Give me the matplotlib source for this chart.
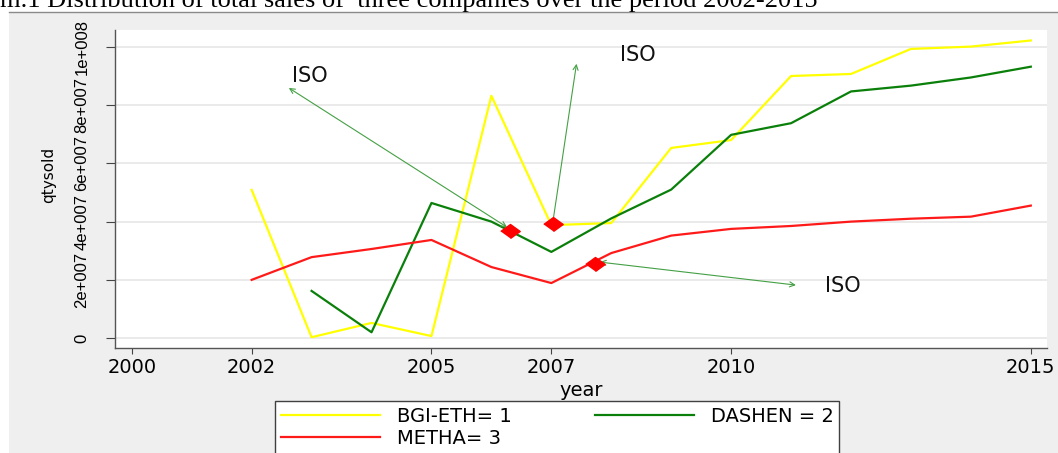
import numpy as np
import matplotlib
matplotlib.use("Agg")
import matplotlib.pyplot as plt
from matplotlib.patches import Rectangle
from matplotlib.lines import Line2D

plt.rcParams['font.family'] = ['DejaVu Sans']

# sales per company (qtysold)
years_bgi = [2002, 2003, 2004, 2005, 2006, 2007, 2008, 2009, 2010, 2011, 2012, 2013, 2014, 2015]
qty_bgi = [50.9e6, 0.3e6, 5.2e6, 0.7e6, 83.2e6, 38.8e6, 39.5e6, 65.3e6, 68.0e6,
           90.0e6, 90.7e6, 99.3e6, 100.1e6, 102.2e6]

years_dashen = [2003, 2004, 2005, 2006, 2007, 2008, 2009, 2010, 2011, 2012, 2013, 2014, 2015]
qty_dashen = [16.2e6, 2.0e6, 46.4e6, 40.0e6, 29.6e6, 41.1e6, 51.0e6, 69.8e6, 73.8e6,
              84.7e6, 86.7e6, 89.5e6, 93.2e6]

years_metha = [2002, 2003, 2004, 2005, 2006, 2007, 2008, 2009, 2010, 2011, 2012, 2013, 2014, 2015]
qty_metha = [20.0e6, 27.8e6, 30.6e6, 33.7e6, 24.4e6, 18.9e6, 29.2e6, 35.2e6, 37.5e6,
             38.5e6, 40.0e6, 41.0e6, 41.7e6, 45.5e6]

# ISO markers and annotation arrows
iso_x = [2006.31, 2007.02, 2007.73]
iso_y = [36.8e6, 39.1e6, 25.3e6]
arrow_start = [(2006.26, 38.1e6), (2007.03, 40.5e6), (2007.81, 26.1e6)]
arrow_end = [(2002.62, 85.9e6), (2007.42, 94.2e6), (2011.08, 18.2e6)]
arrow_style = ['<->', '->', '<->']
label_pos = [(2002.67, 90.0e6), (2008.14, 97.3e6), (2011.56, 17.9e6)]
label_text = "ISO"

xticks = [2000, 2002, 2005, 2007, 2010, 2015]
yticks = [0, 2e7, 4e7, 6e7, 8e7, 1e8]
ytick_labels = ["0", "2e+007", "4e+007", "6e+007", "8e+007", "1e+008"]

W, H = 1058, 453
fig = plt.figure(figsize=(W / 100, H / 100), dpi=100)
fig.patch.set_facecolor("white")

# grey stata-like background panel
bg = Rectangle((9 / W, 0), 1 - 9 / W, 1 - 12 / H, transform=fig.transFigure,
               facecolor="#efefef", edgecolor="none", zorder=-10)
fig.patches.append(bg)
fig.add_artist(Line2D([9 / W, 1], [1 - 12 / H, 1 - 12 / H], transform=fig.transFigure,
                      color="#8a8a8a", lw=1.0))

fig.text(0.0, 1 - 7 / H, "m.1 Distribution of total sales of  three companies over the period 2002-2015",
         family="Liberation Serif", fontsize=19, va="baseline", ha="left")

ax = fig.add_axes([115 / W, 1 - 348 / H, (1047 - 115) / W, (348 - 30) / H])
ax.set_facecolor("white")

for y in yticks:
    ax.axhline(y, color="#e6e6e6", lw=1.2, zorder=0)

l_bgi, = ax.plot(years_bgi, qty_bgi, color="#ffff00", lw=1.6, label="BGI-ETH= 1", zorder=2)
l_dash, = ax.plot(years_dashen, qty_dashen, color="#0a800a", lw=1.6, label="DASHEN = 2", zorder=2)
l_meth, = ax.plot(years_metha, qty_metha, color="#ff1a1a", lw=1.6, label="METHA= 3", zorder=2)

for (x0, y0), (x1, y1), st in zip(arrow_start, arrow_end, arrow_style):
    ax.annotate("", xy=(x1, y1), xytext=(x0, y0),
                arrowprops=dict(arrowstyle=st, color="#44a044", lw=0.8,
                                shrinkA=0, shrinkB=0, mutation_scale=9), zorder=3)

for lx, ly in label_pos:
    ax.text(lx, ly, label_text, fontsize=15, ha="left", va="center", color="#111111")

diamond = [(-1, 0), (0, 0.72), (1, 0), (0, -0.72)]
ax.plot(iso_x, iso_y, linestyle="none", marker=diamond, markersize=14,
        color="#ff0000", zorder=4)

ax.set_xlim(1999.72, 2015.27)
ax.set_ylim(-3.4e6, 105.8e6)
ax.set_xticks(xticks)
ax.set_yticks(yticks)
ax.set_yticklabels(ytick_labels, rotation=90, va="center", family="Liberation Sans", fontsize=12)
ax.tick_params(axis="y", length=6.5, pad=12, color="#444444")
ax.tick_params(axis="x", length=4.5, pad=3, labelsize=14, color="#444444")
for s in ["top", "right"]:
    ax.spines[s].set_visible(False)
for s in ["left", "bottom"]:
    ax.spines[s].set_color("#555555")
    ax.spines[s].set_linewidth(1.0)

ax.set_xlabel("year", fontsize=14)
ax.xaxis.set_label_coords(0.5, -0.105)
ax.set_ylabel("qtysold", fontsize=11)
ax.yaxis.set_label_coords(-0.063, 0.544)

leg = fig.legend([l_bgi, l_meth, l_dash], ["BGI-ETH= 1", "METHA= 3", "DASHEN = 2"],
                 loc="upper left", bbox_to_anchor=(275 / W, 1 - 401 / H), ncol=2,
                 fontsize=14, handlelength=5.1, handletextpad=0.85, columnspacing=4.3,
                 borderpad=0.3, labelspacing=0.15, borderaxespad=0,
                 fancybox=False, framealpha=1)
leg.get_frame().set_edgecolor("#404040")
leg.get_frame().set_linewidth(1.0)

fig.savefig("out.png", dpi=100)
